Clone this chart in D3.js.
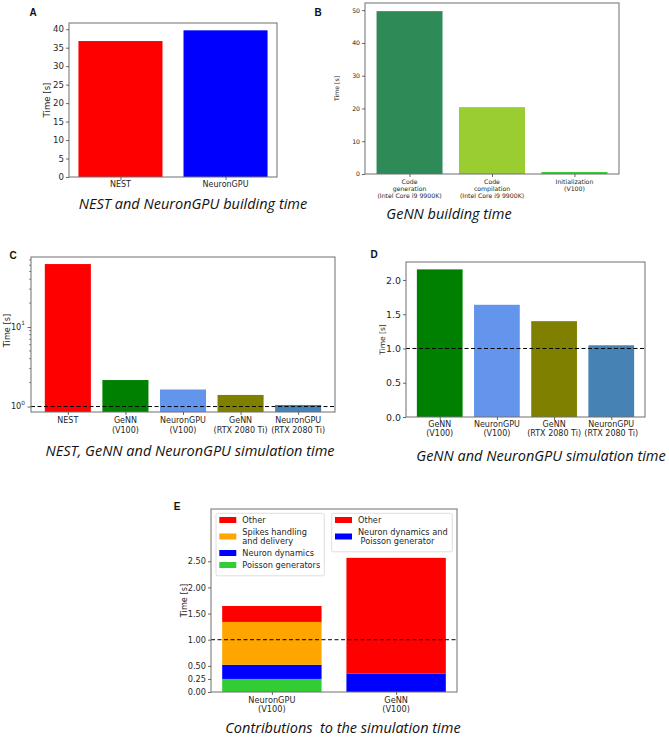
<!DOCTYPE html>
<html><head><meta charset="utf-8">
<script src="https://cdn.jsdelivr.net/npm/d3@7"></script>
<style>body{margin:0;background:#fff} svg{display:block} text,tspan{white-space:pre}</style>
</head><body>
<svg id="c" width="669" height="738"></svg>
<script>
// ---------------- DATA ----------------
const buildCats = ["NEST", "NeuronGPU"];
const buildTimes = [36.8, 39.7];
const ticksA = [0, 5, 10, 15, 20, 25, 30, 35, 40];

const gennBuildCats = ["Code\ngeneration\n(Intel Core i9 9900K)", "Code\ncompilation\n(Intel Core i9 9900K)", "Initialization\n(V100)"];
const gennBuildTimes = [49.7, 20.4, 0.6];
const ticksB = [0, 10, 20, 30, 40, 50];

const simCats = ["NEST", "GeNN\n(V100)", "NeuronGPU\n(V100)", "GeNN\n(RTX 2080 Ti)", "NeuronGPU\n(RTX 2080 Ti)"];
const simTimes = [62, 2.155, 1.638, 1.399, 1.047];
const ticksCMajor = [1, 10];
const ticksCMinor = [2, 3, 4, 5, 6, 7, 8, 9, 20, 30, 40, 50, 60, 70];

const gpuCats = ["GeNN\n(V100)", "NeuronGPU\n(V100)", "GeNN\n(RTX 2080 Ti)", "NeuronGPU\n(RTX 2080 Ti)"];
const gpuTimes = [2.155, 1.638, 1.399, 1.047];
const ticksD = [0, 0.5, 1.0, 1.5, 2.0];

const contribCats = ["NeuronGPU\n(V100)", "GeNN\n(V100)"];
const ngpuParts = ["Poisson generators", "Neuron dynamics", "Spikes handling\nand delivery", "Other"];
const ngpuValues = [0.25, 0.27, 0.82, 0.305];
const gennParts = ["Neuron dynamics and\n Poisson generator", "Other"];
const gennValues = [0.35, 2.216];
const ticksE = [0, 0.25, 0.5, 1.0, 1.5, 2.0, 2.5];
const yMaxE = 3.5;
const refLine = 1.0;

const titles = ["NEST and NeuronGPU building time", "GeNN building time",
  "NEST, GeNN and NeuronGPU simulation time", "GeNN and NeuronGPU simulation time",
  "Contributions  to the simulation time"];

// ---------------- STYLES ----------------
const colorsA = ["#ff0000", "#0000ff"];
const colorsB = ["#2e8b57", "#9acd32", "#32cd32"];
const colorsC = ["#ff0000", "#008000", "#6495ed", "#808000", "#4682b4"];
const colorsD = ["#008000", "#6495ed", "#808000", "#4682b4"];
const ngpuColors = ["#32cd32", "#0000ff", "#ffa500", "#ff0000"];
const gennColors = ["#0000ff", "#ff0000"];

const TF = "'DejaVu Sans', sans-serif";
const TXT = "#262626";
const FRAME = "#6e6e6e";
const svg = d3.select("#c");

function xBand(n, x0, x1) {
  const m = 0.05 * (n - 1 + 0.8);
  return d3.scaleLinear().domain([-0.4 - m, n - 1 + 0.4 + m]).range([x0, x1]);
}

function multiText(g, x, y, str, fs, lh, anchor) {
  const t = g.append("text").attr("x", x).attr("y", y)
    .attr("font-family", TF).attr("font-size", fs).attr("fill", TXT)
    .attr("text-anchor", anchor || "middle").style("white-space", "pre");
  str.split("\n").forEach((s, i) => {
    t.append("tspan").attr("x", x).attr("dy", i === 0 ? 0 : lh).style("white-space", "pre").text(s);
  });
  return t;
}

function frame(g, b) {
  g.append("rect").attr("x", b.x0).attr("y", b.y0).attr("width", b.x1 - b.x0).attr("height", b.y1 - b.y0)
    .attr("fill", "none").attr("stroke", FRAME).attr("stroke-width", 1);
}

function yAxis(g, b, y, ticks, fmt, fs) {
  const ax = d3.axisLeft(y).tickValues(ticks).tickFormat(fmt).tickSize(3).tickPadding(2);
  const a = g.append("g").attr("transform", `translate(${b.x0},0)`).call(ax);
  a.select(".domain").remove();
  a.selectAll("line").attr("stroke", "#444").attr("stroke-width", 0.8);
  a.selectAll("text").attr("font-family", TF).attr("font-size", fs).attr("fill", TXT);
}

function xAxis(g, b, x, cats, fs, lh, firstBase) {
  const ax = d3.axisBottom(x).tickValues(d3.range(cats.length)).tickFormat("").tickSize(3);
  const a = g.append("g").attr("transform", `translate(0,${b.y1})`).call(ax);
  a.select(".domain").remove();
  a.selectAll("line").attr("stroke", "#444").attr("stroke-width", 0.8);
  cats.forEach((c, i) => multiText(g, x(i), firstBase, c, fs, lh));
}

function yLabel(g, cx, cy, fs) {
  g.append("text").attr("transform", `translate(${cx},${cy}) rotate(-90)`)
    .attr("text-anchor", "middle").attr("dy", "0.35em")
    .attr("font-family", TF).attr("font-size", fs).attr("fill", TXT).text("Time [s]");
}

function title(cx, base, str) {
  svg.append("text").attr("x", cx).attr("y", base).attr("text-anchor", "middle")
    .attr("font-family", "'Open Sans', sans-serif").attr("font-style", "italic")
    .attr("font-size", 14.5).attr("fill", "#111").style("white-space", "pre").text(str);
}

function letter(x, y, s) {
  svg.append("text").attr("x", x).attr("y", y).attr("text-anchor", "middle")
    .attr("font-family", "'Liberation Sans', Arial, sans-serif").attr("font-weight", "bold")
    .attr("font-size", 10).attr("fill", "#111").text(s);
}

function bars(g, x, y, vals, colors, base) {
  g.selectAll(null).data(vals).enter().append("rect")
    .attr("x", (d, i) => x(i - 0.4)).attr("width", (d, i) => x(i + 0.4) - x(i - 0.4))
    .attr("y", d => y(d)).attr("height", d => base - y(d))
    .attr("fill", (d, i) => colors[i]);
}

function dashed(g, b, yy) {
  g.append("line").attr("x1", b.x0).attr("x2", b.x1).attr("y1", yy).attr("y2", yy)
    .attr("stroke", "#000").attr("stroke-width", 1).attr("stroke-dasharray", "4,2.5");
}

// ---------------- PANEL A ----------------
{
  const b = {x0: 69, x1: 277, y0: 23, y1: 177};
  const g = svg.append("g");
  const x = xBand(buildCats.length, b.x0, b.x1);
  const y = d3.scaleLinear().domain([0, d3.max(buildTimes) * 1.05]).range([b.y1, b.y0]);
  bars(g, x, y, buildTimes, colorsA, b.y1);
  frame(g, b);
  yAxis(g, b, y, ticksA, d3.format("d"), 8.6);
  xAxis(g, b, x, buildCats, 8, 9, 187);
  yLabel(g, 47, (b.y0 + b.y1) / 2, 8.6);
  title(193, 209, titles[0]);
  letter(33, 16, "A");
}

// ---------------- PANEL B ----------------
{
  const b = {x0: 365, x1: 619, y0: 3, y1: 174};
  const g = svg.append("g");
  const x = xBand(gennBuildCats.length, b.x0, b.x1);
  const y = d3.scaleLinear().domain([0, d3.max(gennBuildTimes) * 1.05]).range([b.y1, b.y0]);
  bars(g, x, y, gennBuildTimes, colorsB, b.y1);
  frame(g, b);
  yAxis(g, b, y, ticksB, d3.format("d"), 6.2);
  xAxis(g, b, x, gennBuildCats, 6.2, 7, 184);
  yLabel(g, 337, (b.y0 + b.y1) / 2, 6.2);
  title(449, 219, titles[1]);
  letter(318, 16, "B");
}

// ---------------- PANEL C ----------------
{
  const b = {x0: 31, x1: 335, y0: 257, y1: 412};
  const g = svg.append("g");
  const x = xBand(simCats.length, b.x0, b.x1);
  const lo = Math.log10(d3.min(simTimes)), hi = Math.log10(d3.max(simTimes));
  const m = 0.05 * (hi - lo);
  const y = d3.scaleLog().domain([Math.pow(10, lo - m), Math.pow(10, hi + m)]).range([b.y1, b.y0]);
  bars(g, x, y, simTimes, colorsC, b.y1);
  dashed(g, b, y(refLine));
  frame(g, b);
  const mt = ticksCMinor.filter(v => v >= y.domain()[0] && v <= y.domain()[1]);
  g.selectAll(null).data(mt).enter().append("line")
    .attr("x1", b.x0 - 2).attr("x2", b.x0).attr("y1", d => y(d)).attr("y2", d => y(d))
    .attr("stroke", "#444").attr("stroke-width", 0.6);
  const ax = d3.axisLeft(y).tickValues(ticksCMajor).tickFormat("").tickSize(3.5);
  const a = g.append("g").attr("transform", `translate(${b.x0},0)`).call(ax);
  a.select(".domain").remove();
  a.selectAll("line").attr("stroke", "#444").attr("stroke-width", 0.8);
  ticksCMajor.forEach(v => {
    const t = g.append("text").attr("x", b.x0 - 6).attr("y", y(v)).attr("dy", "0.32em")
      .attr("text-anchor", "end").attr("font-family", TF).attr("font-size", 8.2).attr("fill", TXT);
    t.append("tspan").text("10");
    t.append("tspan").attr("font-size", 5.8).attr("dy", "-0.75em").text(Math.round(Math.log10(v)));
  });
  xAxis(g, b, x, simCats, 8, 9.5, 423);
  yLabel(g, 7, (b.y0 + b.y1) / 2 - 4, 8.2);
  title(190, 456, titles[2]);
  letter(13, 259, "C");
}

// ---------------- PANEL D ----------------
{
  const b = {x0: 406, x1: 645, y0: 262, y1: 417};
  const g = svg.append("g");
  const x = xBand(gpuCats.length, b.x0, b.x1);
  const y = d3.scaleLinear().domain([0, d3.max(gpuTimes) * 1.05]).range([b.y1, b.y0]);
  bars(g, x, y, gpuTimes, colorsD, b.y1);
  dashed(g, b, y(refLine));
  frame(g, b);
  yAxis(g, b, y, ticksD, d3.format(".1f"), 9.4);
  xAxis(g, b, x, gpuCats, 8, 8.8, 427);
  yLabel(g, 382, (b.y0 + b.y1) / 2, 7.5);
  title(541, 461, titles[3]);
  letter(374, 258, "D");
}

// ---------------- PANEL E ----------------
{
  const b = {x0: 211, x1: 457, y0: 509, y1: 692};
  const g = svg.append("g");
  const x = xBand(contribCats.length, b.x0, b.x1);
  const y = d3.scaleLinear().domain([0, yMaxE]).range([b.y1, b.y0]);
  const stacks = [[ngpuValues, ngpuColors], [gennValues, gennColors]];
  stacks.forEach(([vals, cols], i) => {
    const tops = d3.cumsum(vals);
    vals.forEach((v, j) => {
      const top = tops[j], bot = top - v;
      g.append("rect").attr("x", x(i - 0.4)).attr("width", x(i + 0.4) - x(i - 0.4))
        .attr("y", y(top)).attr("height", y(bot) - y(top)).attr("fill", cols[j]);
    });
  });
  dashed(g, b, y(refLine));
  frame(g, b);
  yAxis(g, b, y, ticksE, d3.format(".2f"), 8.2);
  xAxis(g, b, x, contribCats, 8.2, 8.5, 703);
  yLabel(g, 184, (b.y0 + b.y1) / 2, 8.2);
  title(343, 733, titles[4]);
  letter(177, 510, "E");

  function legend(lx, ly, w, entries) {
    const lg = g.append("g");
    let cy = ly + 6.7;
    const rows = entries.map(([lab, col]) => {
      const n = lab.split("\n").length;
      const h = n === 1 ? 12 : 21;
      const r = {lab, col, cy: cy + (h - 12) / 2, n};
      cy += h;
      return r;
    });
    const hgt = cy - ly - 6.7 + 5.5;
    lg.append("rect").attr("x", lx).attr("y", ly).attr("width", w).attr("height", hgt)
      .attr("rx", 2).attr("fill", "#fff").attr("fill-opacity", 0.85).attr("stroke", "#d6d6d6").attr("stroke-width", 0.8);
    rows.forEach(r => {
      lg.append("rect").attr("x", lx + 3.3).attr("y", r.cy - 3).attr("width", 17).attr("height", 6).attr("fill", r.col);
      const first = r.cy + 3 - (r.n - 1) * 4.5;
      multiText(lg, lx + 26.3, first, r.lab, 8.2, 9, "start");
    });
  }
  legend(216, 513.3, 108.3, [[ngpuParts[3], ngpuColors[3]], [ngpuParts[2], ngpuColors[2]], [ngpuParts[1], ngpuColors[1]], [ngpuParts[0], ngpuColors[0]]]);
  legend(331.7, 513.3, 120.6, [[gennParts[1], gennColors[1]], [gennParts[0], gennColors[0]]]);
}
</script>
</body></html>
